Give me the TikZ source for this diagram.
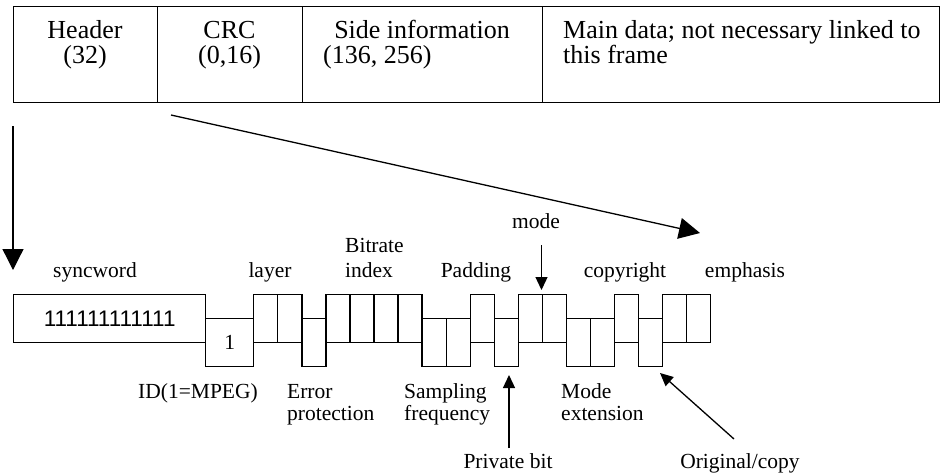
\documentclass[tikz,border=0pt]{standalone}
\usepackage{fontspec}
\setmainfont{Liberation Serif}
\newfontfamily\sansdigits{Liberation Sans}
\usetikzlibrary{arrows.meta}
\begin{document}
\begin{tikzpicture}[x=1pt,y=-1pt,
  field/.style={draw,line width=1.4pt,minimum height=95.5pt,inner sep=0pt,anchor=north west},
  cell/.style={draw,line width=1.3pt,minimum width=24.05pt,minimum height=48pt,inner sep=0pt,anchor=north west},
  big/.style={font=\fontsize{26}{30}\selectfont,inner sep=0pt},
  lbl/.style={font=\fontsize{21.5}{25}\selectfont,inner sep=0pt},
  bigtip/.style={-{Triangle[width=21pt,length=21pt]},line width=1.3pt},
  smalltip/.style={-{Triangle[width=12pt,length=13pt]},line width=1.3pt}]
\useasboundingbox (0,0) rectangle (940,474);

% frame layout
\node[field,minimum width=144pt] (hdr) at (13,6) {};
\node[field,minimum width=145pt] (crc) at (157,6) {};
\node[field,minimum width=240pt] (side) at (302,6) {};
\node[field,minimum width=396.5pt] (main) at (542,6) {};

\node[big,anchor=base] (hdrA) at (85,38) {Header};
\node[big,anchor=base] (hdrB) at (85,63) {(32)};
\node[big,anchor=base] (crcA) at (229.5,38) {CRC};
\node[big,anchor=base] (crcB) at (229.5,63) {(0,16)};
\node[big,anchor=base] (sideA) at (422,38) {Side information};
\node[big,anchor=base west] (sideB) at (323,63) {(136, 256)};
\node[big,anchor=base west] (mainA) at (563,38) {Main data; not necessary linked to};
\node[big,anchor=base west] (mainB) at (563,63) {this frame};

% header bit fields
\node[cell,minimum width=192pt] (sync) at (13,294) {\sansdigits\fontsize{22.5}{26}\selectfont 111111111111};
\node[cell,minimum width=48.1pt] (idbit) at (205,318) {\fontsize{21.5}{25}\selectfont 1};
\foreach \i/\t in {0/294,1/294,2/318,3/294,4/294,5/294,6/294,7/318,8/318,9/294,
                   10/318,11/294,12/294,13/318,14/318,15/294,16/318,17/294,18/294}
  \node[cell] (b\i) at ({253.1+\i*24.05},\t) {};

% field names above the row
\node[lbl,anchor=base] (lsync) at (95,277) {syncword};
\node[lbl,anchor=base] (llayer) at (270,277) {layer};
\node[lbl,anchor=base west] (lbitA) at (345,252) {Bitrate};
\node[lbl,anchor=base west] (lbitB) at (345,277) {index};
\node[lbl,anchor=base] (lpad) at (476,277) {Padding};
\node[lbl,anchor=base] (lmode) at (536,228) {mode};
\node[lbl,anchor=base] (lcopy) at (625,277) {copyright};
\node[lbl,anchor=base] (lemph) at (745,277) {emphasis};

% field names below the row
\node[lbl,anchor=base] (lid) at (198,398) {ID(1=MPEG)};
\node[lbl,anchor=base west] (lerrA) at (287,398) {Error};
\node[lbl,anchor=base west] (lerrB) at (287,420) {protection};
\node[lbl,anchor=base west] (lsampA) at (404,398) {Sampling};
\node[lbl,anchor=base west] (lsampB) at (404,420) {frequency};
\node[lbl,anchor=base west] (lmextA) at (561,398) {Mode};
\node[lbl,anchor=base west] (lmextB) at (561,420) {extension};
\node[lbl,anchor=base] (lpriv) at (508,468) {Private bit};
\node[lbl,anchor=base] (lorig) at (740,468) {Original/copy};

% pointers
\coordinate (dstart) at (171,115);
\coordinate (dend) at (700,233);
\draw[bigtip] (dstart) -- (dend);
\coordinate (vstart) at (13,126);
\coordinate (vend) at (13,270);
\draw[bigtip] (vstart) -- (vend);
\coordinate (mstart) at (541.5,245);
\coordinate (mend) at (541.5,290);
\draw[smalltip] (mstart) -- (mend);
\coordinate (pstart) at (509,448);
\coordinate (pend) at (509,375);
\draw[smalltip] (pstart) -- (pend);
\coordinate (ostart) at (734,439);
\coordinate (oend) at (660,373);
\draw[smalltip] (ostart) -- (oend);
\end{tikzpicture}
\end{document}
